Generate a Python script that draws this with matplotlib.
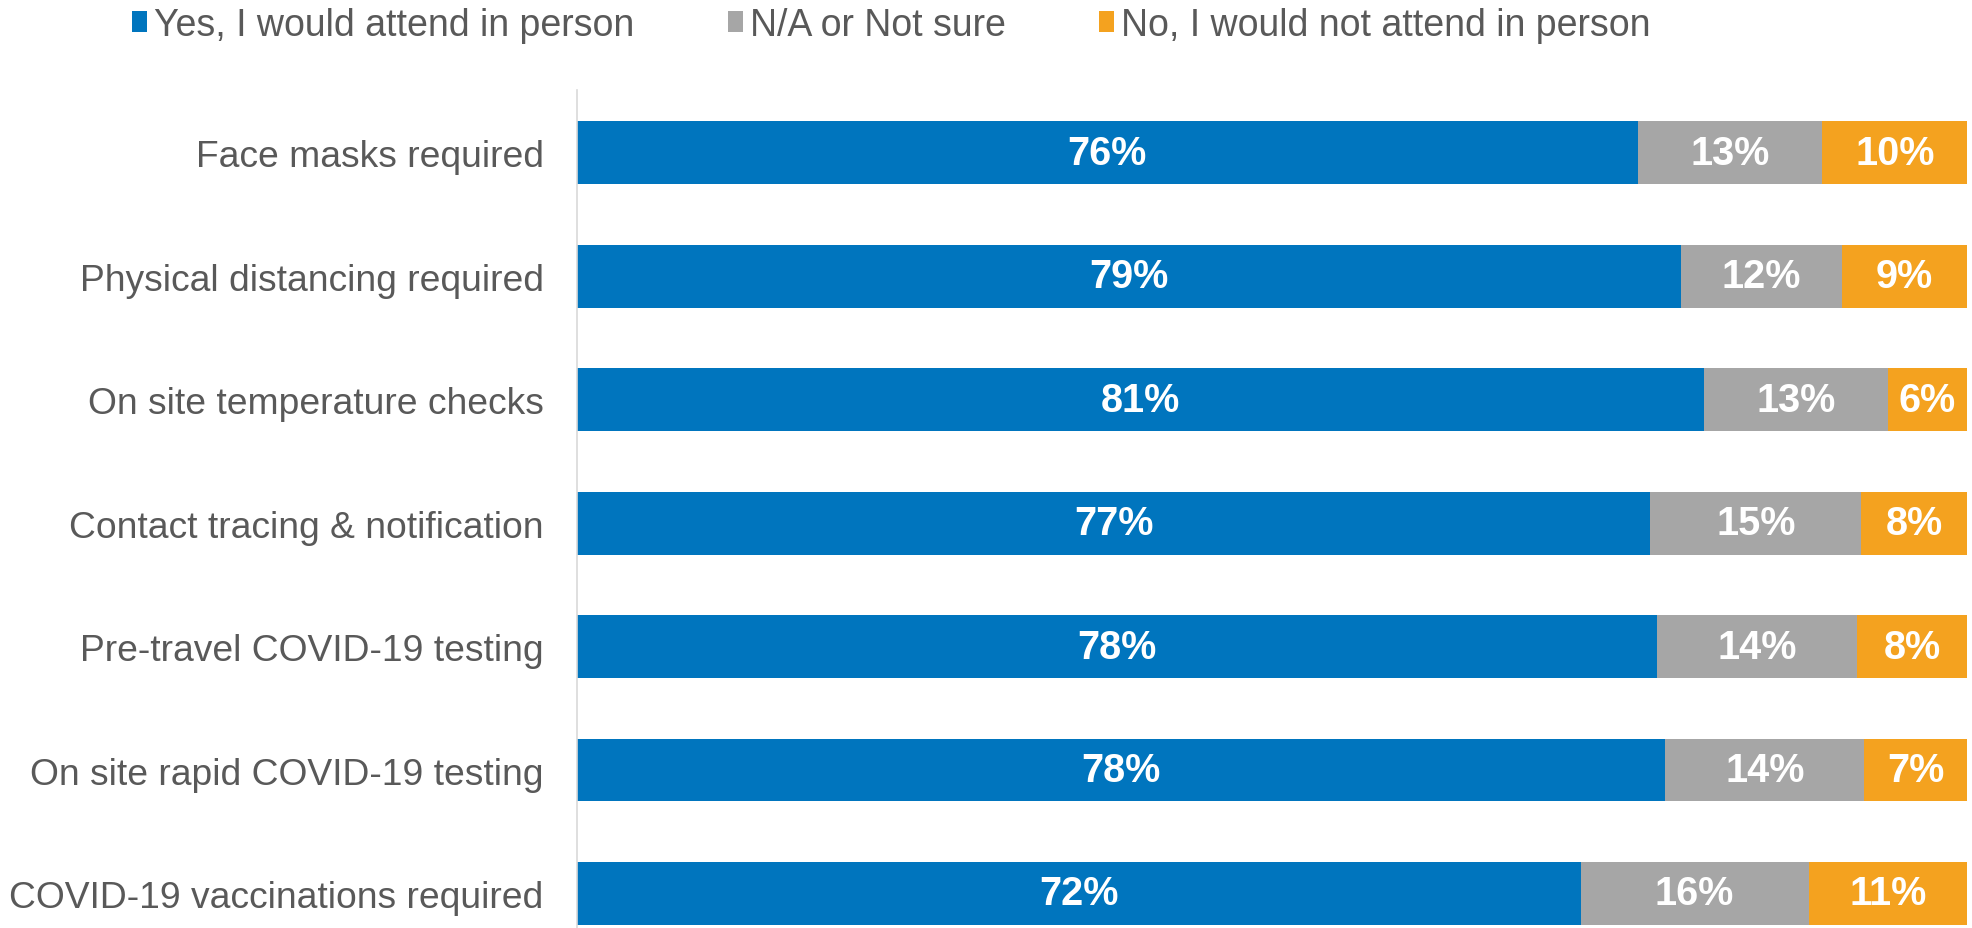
import matplotlib
matplotlib.use("Agg")
from matplotlib import pyplot as plt
import numpy as np

# survey data (percent of respondents)
categories = [
    "Face masks required",
    "Physical distancing required",
    "On site temperature checks",
    "Contact tracing & notification",
    "Pre-travel COVID-19 testing",
    "On site rapid COVID-19 testing",
    "COVID-19 vaccinations required",
]
yes_vals = [76.3, 79.4, 81.1, 77.2, 77.7, 78.3, 72.2]
na_vals = [13.3, 11.6, 13.2, 15.2, 14.4, 14.3, 16.4]
no_vals = [10.4, 9.0, 5.7, 7.6, 7.9, 7.4, 11.4]

series_names = ["Yes, I would attend in person", "N/A or Not sure",
                "No, I would not attend in person"]
colors = ["#0075BE", "#A6A6A6", "#F4A21F"]

plt.rcParams['font.family'] = ['Liberation Sans', 'DejaVu Sans']

fig = plt.figure(figsize=(19.72, 9.29), dpi=100)
ax = fig.add_axes([577 / 1972, 0.0, (1967 - 577) / 1972, (929 - 91) / 929])

y = np.arange(len(categories))
left = np.zeros(len(categories))
bars = []
for vals, name, col in zip([yes_vals, na_vals, no_vals], series_names, colors):
    vals = np.array(vals)
    b = ax.barh(y, vals, left=left, height=0.51, color=col, label=name)
    bars.append(b)
    # value labels in the middle of each segment
    for yi, l, v in zip(y, left, vals):
        ax.text(l + v / 2, yi, f"{v:.0f}%", ha='center', va='center',
                color='white', fontsize=28.5, fontweight='bold')
    left += vals

ax.set_xlim(0, 100)
ax.set_ylim(6.28, -0.51)
ax.set_yticks(y)
ax.set_yticklabels(categories, fontsize=26.8, color='#595959')
ax.tick_params(axis='y', length=0, pad=24)
ax.set_xticks([])
for s in ['top', 'right', 'bottom']:
    ax.spines[s].set_visible(False)
ax.spines['left'].set_color('#D9D9D9')
ax.spines['left'].set_linewidth(1.2)

leg = fig.legend(handles=bars, labels=series_names, loc='upper center',
                 bbox_to_anchor=(0.452, 1.028), ncol=3, frameon=False,
                 fontsize=27, handlelength=0.4, handleheight=0.5,
                 handletextpad=0.18, columnspacing=2.5)
for t in leg.get_texts():
    t.set_color('#595959')

fig.savefig("out.png", dpi=100)
